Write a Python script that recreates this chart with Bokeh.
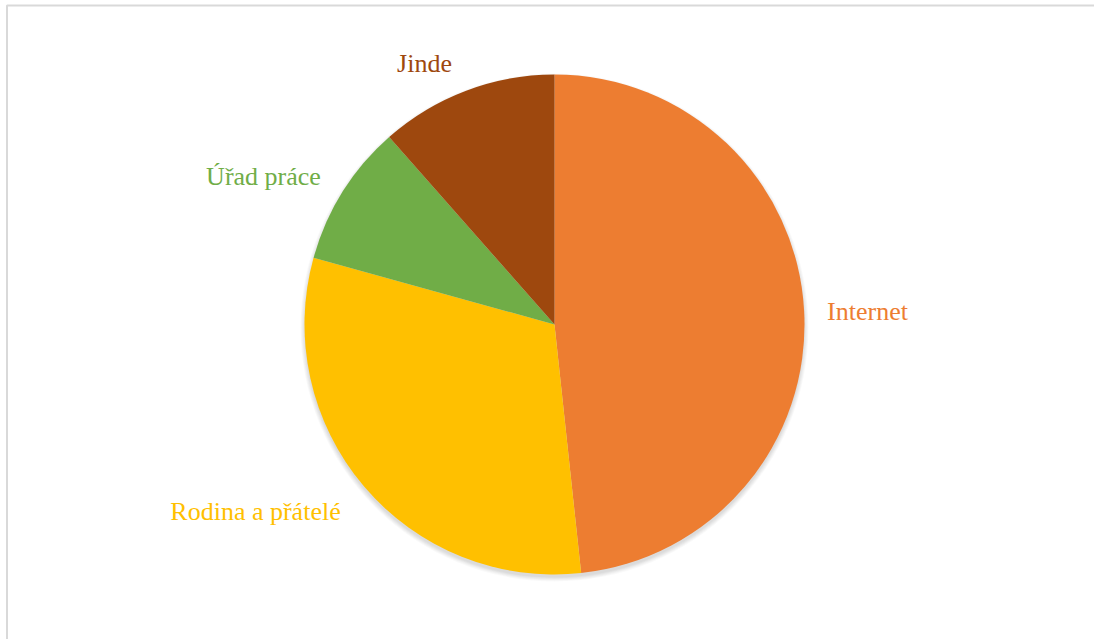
import math
from bokeh.plotting import figure
from bokeh.models import ColumnDataSource
from bokeh.core.properties import value
from bokeh.embed import file_html
from bokeh.resources import INLINE

categories = ["Internet", "Rodina a přátelé", "Úřad práce", "Jinde"]
shares = [48.3, 31.0, 9.2, 11.5]
colors = ["#ED7D31", "#FFC000", "#70AD47", "#9E480E"]

W, H = 1094, 639
p = figure(width=W, height=H, x_range=(0, W), y_range=(0, H),
           output_backend="svg", toolbar_location=None, min_border=0)
p.axis.visible = False
p.grid.visible = False
p.outline_line_color = None
p.background_fill_color = "white"
p.border_fill_color = "white"

# chart frame
p.quad(left=[6.5], right=[W + 20], top=[H - 5], bottom=[-20],
       fill_color=None, line_color="#D9D9D9", line_width=2)

cx, cy, r = 554, H - 324, 250

# soft shadow
for k in range(6):
    p.circle(x=[cx], y=[cy - 3], radius=r + 4 - k * 0.8,
             fill_color="black", fill_alpha=0.025, line_color=None)

total = sum(shares)
starts, ends = [], []
acc = 0.0
for s in shares:
    a0 = math.pi / 2 - 2 * math.pi * acc / total
    acc += s
    a1 = math.pi / 2 - 2 * math.pi * acc / total
    starts.append(a0)
    ends.append(a1)

src = ColumnDataSource(dict(cat=categories, val=shares, color=colors,
                            start=starts, end=ends))
p.wedge(x=cx, y=cy, radius=r, start_angle="start", end_angle="end",
        direction="clock", fill_color="color", line_color=None, source=src)

label_x = [867, 255, 263, 424]
label_y = [H - 311, H - 511, H - 176, H - 63]
lsrc = ColumnDataSource(dict(x=label_x, y=label_y, t=categories, color=colors))
p.text(x="x", y="y", text="t", text_color="color", source=lsrc,
       text_font=value("Times New Roman"), text_font_size="26px",
       text_align="center", text_baseline="middle")

open("out.html", "w").write(file_html(p, INLINE))
